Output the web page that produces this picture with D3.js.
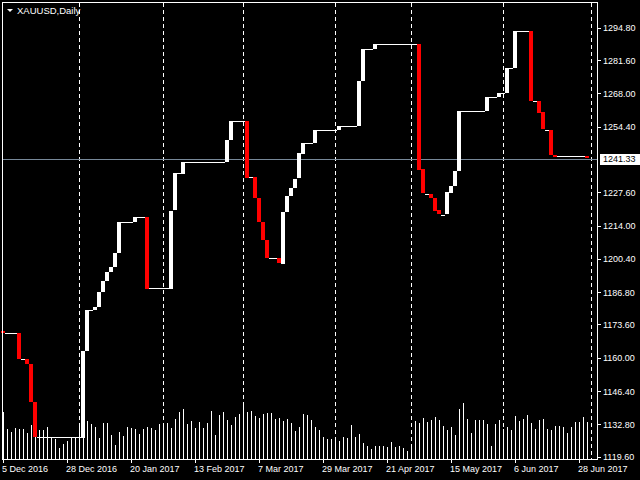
<!DOCTYPE html>
<html>
<head>
<meta charset="utf-8">
<script src="https://cdn.jsdelivr.net/npm/d3@7"></script>
<style>
  body { margin: 0; background: #000; }
  text { font-family: "Liberation Sans", Arial, sans-serif; }
</style>
</head>
<body>
<script>
// Symbol and timeframe for the title
const symbolTitle = "XAUUSD,Daily";

// Bars where the step line changes level, and the new closing level
const stepBars = [0, 4, 6, 7, 8, 20, 21, 23, 24, 25, 26, 27, 28, 29, 33, 36, 42, 43, 45, 56, 57,
  61, 63, 64, 65, 66, 69, 70, 71, 72, 73, 74, 75, 78, 84, 89, 90, 93, 104, 105, 107, 108, 109,
  111, 112, 113, 114, 121, 124, 126, 128, 132, 134, 135, 137, 138, 146];
const stepCloses = [1170.0, 1159.3, 1157.3, 1141.8, 1127.5, 1162.9, 1179.5, 1180.9, 1187.0, 1191.5,
  1195.2, 1197.2, 1202.9, 1215.6, 1217.6, 1188.3, 1220.1, 1235.3, 1240.1, 1249.1, 1256.8,
  1233.7, 1225.1, 1215.3, 1207.9, 1200.6, 1198.5, 1219.7, 1226.2, 1229.5, 1233.1, 1243.5, 1247.8,
  1253.1, 1254.8, 1273.2, 1286.2, 1288.3, 1236.9, 1227.0, 1225.4, 1220.2, 1218.4,
  1227.5, 1230.3, 1236.4, 1260.9, 1266.6, 1268.3, 1278.5, 1293.6, 1265.0, 1260.2, 1253.1, 1242.9,
  1242.2, 1241.33];
const firstOpen = 1170.8;
const lastPrice = 1241.33;

// Tick volume of every bar (147 bars)
const volumes = [47, 30, 27, 31, 30, 30, 26, 34, 30, 29, 29, 32, 21, 20, 11, 15, 18, 21, 21, 36,
  30, 38, 35, 32, 21, 36, 36, 24, 14, 27, 23, 32, 31, 30, 25, 30, 32, 31, 29, 35,
  36, 36, 31, 40, 47, 50, 35, 38, 31, 37, 31, 36, 48, 24, 44, 47, 39, 34, 42, 45,
  55, 47, 48, 43, 41, 45, 46, 46, 40, 41, 38, 40, 36, 28, 32, 45, 44, 39, 32, 29,
  22, 20, 20, 19, 18, 22, 21, 34, 22, 25, 16, 13, 10, 13, 13, 13, 12, 17, 12, 13,
  11, 8, 12, 38, 36, 41, 37, 39, 42, 39, 33, 29, 32, 24, 50, 56, 40, 26, 39, 39,
  39, 35, 13, 35, 39, 30, 32, 29, 43, 38, 40, 44, 36, 30, 39, 40, 30, 29, 33, 33,
  32, 26, 32, 37, 37, 42, 37];

// Time axis labels and the bars they sit on
const dateLabels = ["5 Dec 2016", "28 Dec 2016", "20 Jan 2017", "13 Feb 2017", "7 Mar 2017",
  "29 Mar 2017", "21 Apr 2017", "15 May 2017", "6 Jun 2017", "28 Jun 2017"];
const dateLabelBars = [0, 16, 32, 48, 64, 80, 96, 112, 128, 144];

// First bar of each month (period separators)
const monthSepBars = [19, 40, 60, 83, 102, 125, 147];

// Price axis ticks
const priceTicks = [1294.80, 1281.60, 1268.00, 1254.40, 1227.60, 1214.00, 1200.40, 1186.80,
  1173.60, 1160.00, 1146.40, 1132.80, 1119.60];

const w = 640, h = 480;
const plotL = 2.5, plotR = 597.5, plotT = 2.5, plotB = 459.5;

// Build open/close per bar from the step data
const nBars = volumes.length;
let bars = [];
let s = 0, prev = firstOpen;
for (let k = 0; k < nBars; k++) {
  while (s + 1 < stepBars.length && stepBars[s + 1] <= k) s++;
  const close = stepCloses[s];
  bars.push({ i: k, open: prev, close: close, vol: volumes[k] });
  prev = close;
}

const x = d3.scaleLinear().domain([0, 147]).range([3, 591]);
const y = d3.scaleLinear().domain([1119.6, 1294.8]).range([456.7, 27.7]);
const yVol = d3.scaleLinear().domain([0, 100]).range([459, 359]);

const svg = d3.select("body").append("svg")
  .attr("width", w)
  .attr("height", h)
  .style("background", "#000");

// Period separators
svg.selectAll(".sep")
  .data(monthSepBars)
  .enter().append("line")
  .attr("x1", d => x(d) + 0.5)
  .attr("x2", d => x(d) + 0.5)
  .attr("y1", plotT)
  .attr("y2", plotB)
  .attr("stroke", "#fff")
  .attr("stroke-dasharray", "4,3")
  .attr("shape-rendering", "crispEdges");

// Volume bars
svg.selectAll(".vol")
  .data(bars)
  .enter().append("rect")
  .attr("x", d => x(d.i))
  .attr("width", 1)
  .attr("y", d => yVol(d.vol))
  .attr("height", d => yVol(0) - yVol(d.vol))
  .attr("fill", "#fff")
  .attr("shape-rendering", "crispEdges");

// Current price line
svg.append("line")
  .attr("x1", plotL)
  .attr("x2", plotR)
  .attr("y1", Math.round(y(lastPrice)) + 0.5)
  .attr("y2", Math.round(y(lastPrice)) + 0.5)
  .attr("stroke", "#778899")
  .attr("shape-rendering", "crispEdges");

// Price bodies: white when up, red when down, thin line when flat
svg.selectAll(".body")
  .data(bars)
  .enter().append("rect")
  .attr("x", d => x(d.i) - 2)
  .attr("width", 4)
  .attr("y", d => Math.round(Math.min(y(d.open), y(d.close))))
  .attr("height", d => Math.max(1, Math.round(Math.abs(y(d.open) - y(d.close)))))
  .attr("fill", d => d.close < d.open ? "#ff0000" : "#fff")
  .attr("shape-rendering", "crispEdges");

// Frame
svg.append("rect")
  .attr("x", plotL)
  .attr("y", plotT)
  .attr("width", plotR - plotL)
  .attr("height", plotB - plotT)
  .attr("fill", "none")
  .attr("stroke", "#fff")
  .attr("shape-rendering", "crispEdges");

// Price axis
const axis = svg.append("g");
axis.selectAll("line")
  .data(priceTicks)
  .enter().append("line")
  .attr("x1", plotR)
  .attr("x2", plotR + 3)
  .attr("y1", d => Math.round(y(d)) + 0.5)
  .attr("y2", d => Math.round(y(d)) + 0.5)
  .attr("stroke", "#fff")
  .attr("shape-rendering", "crispEdges");
axis.selectAll("text")
  .data(priceTicks)
  .enter().append("text")
  .attr("x", 603)
  .attr("y", d => y(d) + 3.5)
  .attr("fill", "#fff")
  .style("font-size", "9px")
  .text(d => d.toFixed(2));

// Last price label
svg.append("rect")
  .attr("x", 600)
  .attr("y", Math.round(y(lastPrice)) - 5)
  .attr("width", 40)
  .attr("height", 11)
  .attr("fill", "#fff");
svg.append("text")
  .attr("x", 603)
  .attr("y", y(lastPrice) + 3.5)
  .attr("fill", "#000")
  .style("font-size", "9px")
  .text(lastPrice.toFixed(2));

// Time axis labels
svg.selectAll(".date")
  .data(dateLabels)
  .enter().append("text")
  .attr("x", (d, i) => x(dateLabelBars[i]) - 1)
  .attr("y", 471.5)
  .attr("fill", "#fff")
  .style("font-size", "9px")
  .text(d => d);
svg.selectAll(".dtick")
  .data(dateLabelBars)
  .enter().append("line")
  .attr("x1", d => x(d) + 0.5)
  .attr("x2", d => x(d) + 0.5)
  .attr("y1", plotB)
  .attr("y2", plotB + 3)
  .attr("stroke", "#fff")
  .attr("shape-rendering", "crispEdges");

// Title
svg.append("path")
  .attr("d", "M7,9 L13,9 L10,12 Z")
  .attr("fill", "#fff");
svg.append("text")
  .attr("x", 17)
  .attr("y", 14)
  .attr("fill", "#fff")
  .style("font-size", "9.5px")
  .text(symbolTitle);
</script>
</body>
</html>
